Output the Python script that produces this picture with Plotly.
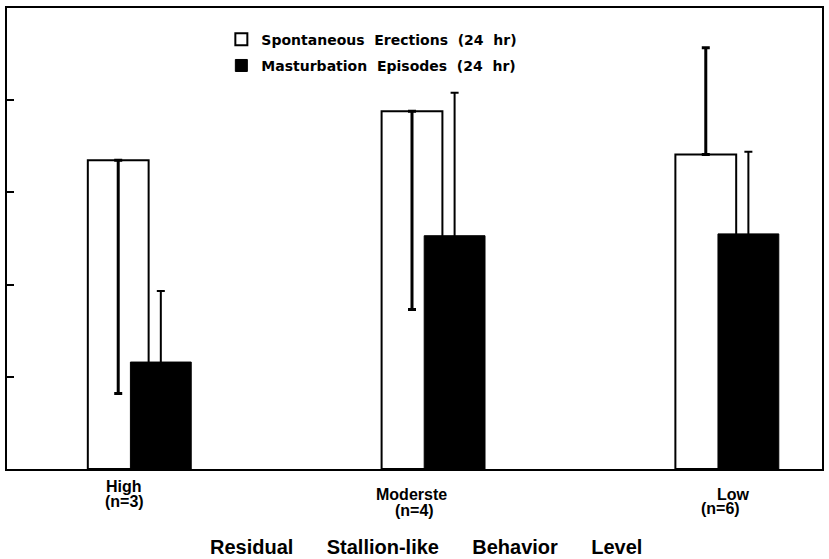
import plotly.graph_objects as go

# ---- data (units = y-axis tick intervals) ----
group_pos = [0, 1, 2]
group_labels = ["High", "Moderste", "Low"]
group_n = ["(n=3)", "(n=4)", "(n=6)"]

erections = [3.35, 3.88, 3.41]
erections_err_plus = [0.0, 0.0, 1.16]
erections_err_minus = [2.53, 2.15, 0.0]

masturbation = [1.16, 2.53, 2.55]
masturbation_err = [0.77, 1.55, 0.89]

y_ticks = [1, 2, 3, 4]

# ---- style ----
NBSP = "\u00a0"
BAR_W = 0.207
BLACK_OFFSET = 0.145
label_font = dict(family="Liberation Sans, Arial, sans-serif", size=16, color="black")

fig = go.Figure()
fig.add_trace(go.Bar(
    x=group_pos, y=erections, width=BAR_W,
    name=f"Spontaneous{NBSP*2}Erections{NBSP*2}(24{NBSP*2}hr)",
    legendgroup="a",
    marker=dict(color="white", line=dict(color="black", width=2)),
    error_y=dict(type="data", symmetric=False, array=erections_err_plus,
                 arrayminus=erections_err_minus, color="black", thickness=3, width=4),
))
fig.add_trace(go.Bar(
    x=[p + BLACK_OFFSET for p in group_pos], y=masturbation, width=BAR_W,
    name=f"Masturbation{NBSP*2}Episodes{NBSP*2}(24{NBSP*2}hr)",
    legendgroup="b",
    marker=dict(color="black", line=dict(color="black", width=1)),
    error_y=dict(type="data", array=masturbation_err, color="black", thickness=2, width=4),
))

annotations = []
# category labels (two lines each), pixel-shift placement
lab_x = [0.019, 0.997, 2.094]
lab_y = [-17, -25, -25]
n_x = [0.022, 1.007, 2.05]
n_y = [-32, -41, -39]
for i in range(3):
    annotations.append(dict(x=lab_x[i], y=0, xref="x", yref="paper", yshift=lab_y[i],
                            text=f"<b>{group_labels[i]}</b>", showarrow=False,
                            xanchor="center", yanchor="middle", font=label_font))
    annotations.append(dict(x=n_x[i], y=0, xref="x", yref="paper", yshift=n_y[i],
                            text=f"<b>{group_n[i]}</b>", showarrow=False,
                            xanchor="center", yanchor="middle", font=label_font))
annotations.append(dict(
    x=0.514, y=0, xref="paper", yref="paper", yshift=-78,
    text="<b>" + (NBSP * 6).join(["Residual", "Stallion-like", "Behavior", "Level"]) + "</b>",
    showarrow=False, xanchor="center", yanchor="middle",
    font=dict(family="Liberation Sans, Arial, sans-serif", size=20, color="black"),
))

fig.update_layout(
    width=829, height=559,
    margin=dict(l=7, r=5, t=8, b=90),
    paper_bgcolor="white", plot_bgcolor="white",
    barmode="overlay",
    showlegend=True,
    legend=dict(x=0.263, y=0.966, xanchor="left", yanchor="top",
                bgcolor="rgba(0,0,0,0)", traceorder="grouped", tracegroupgap=5,
                font=dict(family="DejaVu Sans", size=14, color="black", weight="bold")),
    xaxis=dict(range=[-0.3786, 2.3956], showticklabels=False, ticks="",
               showgrid=False, zeroline=False, showline=True, linecolor="black",
               linewidth=2, mirror=True),
    yaxis=dict(range=[0, 5.0], tickvals=y_ticks, showticklabels=False,
               ticks="inside", ticklen=7, tickwidth=2, tickcolor="black",
               showgrid=False, zeroline=False, showline=True, linecolor="black",
               linewidth=2, mirror=True),
    annotations=annotations,
)

fig.write_html("out.html",
               config={"displayModeBar": False},
               post_script="document.body.style.margin='0';document.body.style.overflow='hidden';")
